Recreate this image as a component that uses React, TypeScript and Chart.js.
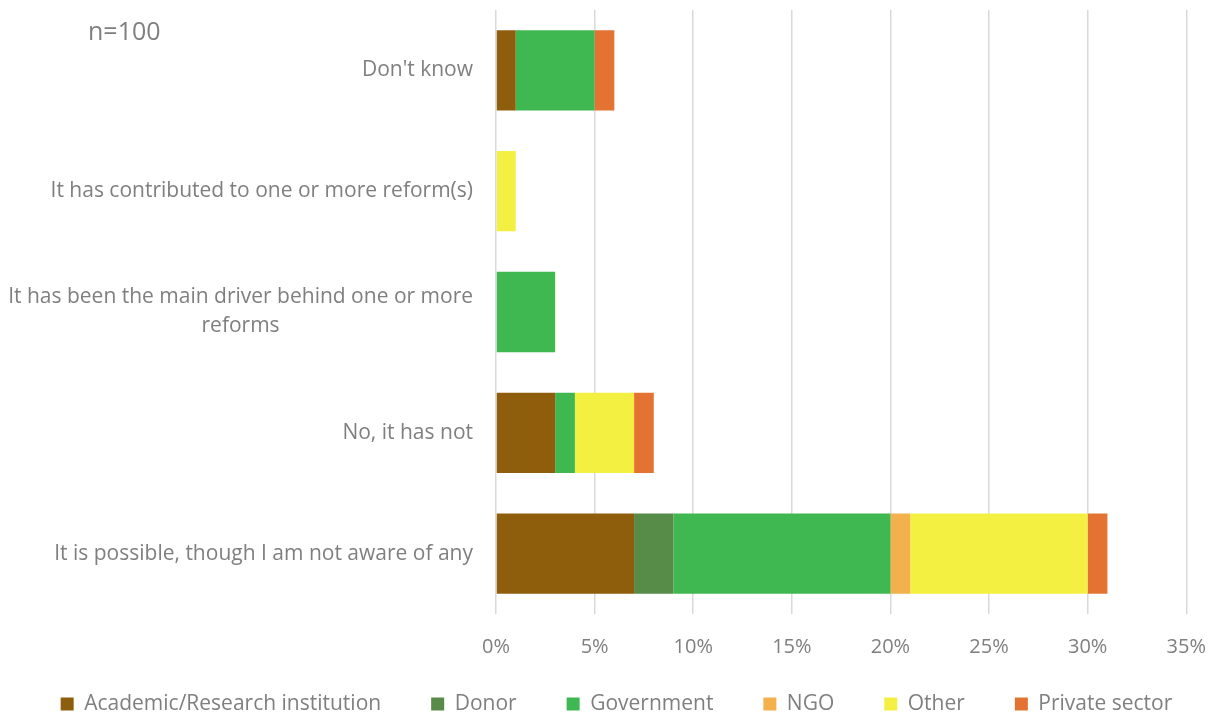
import React, { useEffect, useRef } from "react";
import { Chart, registerables } from "chart.js";

Chart.register(...registerables);

const categories: string[][] = [
  ["Don't know"],
  ["It has contributed to one or more reform(s)"],
  ["It has been the main driver behind one or more", "reforms"],
  ["No, it has not"],
  ["It is possible, though I am not aware of any"],
];

const academic = [1, 0, 0, 3, 7];
const donor = [0, 0, 0, 0, 2];
const government = [4, 0, 3, 1, 11];
const ngo = [0, 0, 0, 0, 1];
const other = [0, 1, 0, 3, 9];
const privateSector = [1, 0, 0, 1, 1];

const seriesNames = ["Academic/Research institution", "Donor", "Government", "NGO", "Other", "Private sector"];
const seriesColors = ["#8F5E0C", "#568C47", "#3FB851", "#F2B14D", "#F3F042", "#E47233"];
const xMin = 0;
const xMax = 35;
const xStep = 5;
const sampleNote = "n=100";

const FONT = "'Open Sans', 'Noto Sans', sans-serif";
const GREY = "#7F7F7F";
const LEGEND_FONT = 21;
const LEGEND_PAD = 50;
const LEGEND_CENTER_Y = 704;

const labelPlugin = {
  id: "customLabels",
  afterLayout(chart: any) {
    const lg = chart.legend;
    if (lg) {
      const h = lg.height;
      lg.top = LEGEND_CENTER_Y - LEGEND_PAD - LEGEND_FONT / 2;
      lg.bottom = lg.top + h;
    }
  },
  afterDraw(chart: any) {
    const ctx = chart.ctx;
    const yScale = chart.scales.y;
    ctx.save();
    ctx.fillStyle = GREY;
    ctx.font = `21px ${FONT}`;
    ctx.textBaseline = "middle";
    const right = chart.chartArea.left - 23;
    const lineH = 29;
    categories.forEach((lines, i) => {
      const cy = yScale.getPixelForValue(i);
      const widths = lines.map((l) => ctx.measureText(l).width);
      const maxW = Math.max(...widths);
      const total = lines.length;
      lines.forEach((l, j) => {
        const y = cy + (j - (total - 1) / 2) * lineH;
        if (total === 1) {
          ctx.textAlign = "right";
          ctx.fillText(l, right, y);
        } else {
          ctx.textAlign = "center";
          ctx.fillText(l, right - maxW / 2, y);
        }
      });
    });
    ctx.font = `25px ${FONT}`;
    ctx.textAlign = "left";
    ctx.fillText(sampleNote, 88, 33);
    ctx.restore();
  },
};

export default function App() {
  const ref = useRef<HTMLCanvasElement | null>(null);
  useEffect(() => {
    document.body.style.margin = "0";
    const seriesData = [academic, donor, government, ngo, other, privateSector];
    const chart = new Chart(ref.current as HTMLCanvasElement, {
      type: "bar",
      data: {
        labels: categories.map((c) => c.join(" ")),
        datasets: seriesNames.map((name, i) => ({
          label: name,
          data: seriesData[i],
          backgroundColor: seriesColors[i],
          borderWidth: 0,
          barPercentage: 0.665,
          categoryPercentage: 1,
        })),
      },
      options: {
        indexAxis: "y",
        responsive: false,
        animation: false,
        layout: { padding: { top: 10, right: -6, left: 0, bottom: -43 } },
        scales: {
          x: {
            stacked: true,
            min: xMin,
            max: xMax,
            grid: { color: "#D9D9D9", lineWidth: 1.5, drawTicks: false },
            border: { display: false },
            ticks: {
              stepSize: xStep,
              color: GREY,
              font: { family: FONT, size: 20 },
              padding: 21,
              callback: (v: any) => `${v}%`,
            },
          },
          y: {
            stacked: true,
            type: "category",
            grid: { display: false },
            border: { display: false },
            ticks: { display: false },
            afterFit: (scale: any) => {
              scale.width = 496;
            },
          },
          yRight: {
            type: "category",
            position: "right",
            grid: { display: false },
            border: { display: false },
            ticks: { display: false },
            afterFit: (scale: any) => {
              scale.width = 23;
            },
          },
        },
        plugins: {
          legend: {
            position: "bottom",
            labels: {
              color: GREY,
              font: { family: FONT, size: LEGEND_FONT },
              boxWidth: 13,
              boxHeight: 13,
              padding: LEGEND_PAD,
            },
          },
          tooltip: { enabled: false },
        },
      },
      plugins: [labelPlugin],
    } as any);
    return () => chart.destroy();
  }, []);
  return (
    <div style={{ width: 1227, height: 718 }}>
      <canvas ref={ref} width={1227} height={718} style={{ display: "block" }} />
    </div>
  );
}
